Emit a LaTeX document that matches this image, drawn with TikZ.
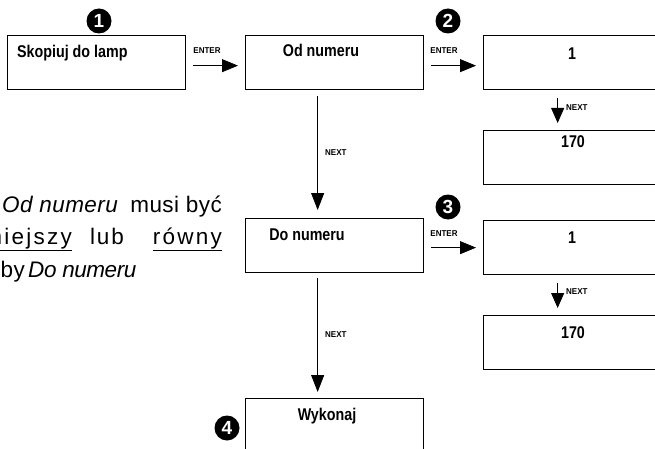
\documentclass[tikz,border=0pt]{standalone}
\usepackage{fontspec}
\setmainfont{Liberation Sans}
\usetikzlibrary{arrows.meta,calc}
\begin{document}
\begin{tikzpicture}[x=1pt,y=-1pt,
  box/.style={draw,line width=1.3pt,anchor=north west,minimum width=178pt,minimum height=54pt,inner sep=0pt},
  lbl/.style={font=\bfseries\fontsize{17}{19}\selectfont\addfontfeatures{FakeStretch=0.84},inner sep=0pt,anchor=base},
  tag/.style={font=\bfseries\fontsize{8.5}{9}\selectfont\addfontfeatures{FakeStretch=0.94},inner sep=0pt},
  badge/.style={circle,fill=black,text=white,minimum size=25pt,inner sep=0pt,font=\bfseries\fontsize{19}{19}\selectfont},
  bigarr/.style={-{Triangle[length=17pt,width=13pt]},line width=0.8pt},
  entarr/.style={-{Triangle[length=16pt,width=13pt]},line width=0.8pt},
  smlarr/.style={-{Triangle[length=15pt,width=13pt]},line width=0.8pt},
  para/.style={font=\fontsize{22.5}{26}\selectfont\addfontfeatures{LetterSpace=2},inner sep=0pt}
]
\useasboundingbox (0,0) rectangle (655,449);
\clip (0,0) rectangle (655,449);
% boxes
\node[box] (b1) at (7,35) {};
\node[box] (b2) at (245,35) {};
\node[box,minimum width=200pt] (b3) at (483,35) {};
\node[box,minimum width=200pt] (b4) at (483,130) {};
\node[box] (b5) at (245,218) {};
\node[box,minimum width=200pt] (b6) at (483,220) {};
\node[box,minimum width=200pt] (b7) at (483,315) {};
\node[box,minimum height=80pt] (b8) at (245,398) {};
% box texts
\node[lbl,anchor=base west] (t1) at (17,58) {Skopiuj do lamp};
\node[lbl] (t2) at (321,57) {Od numeru};
\node[lbl] (t3) at (572,60) {1};
\node[lbl] (t4) at (573,148) {170};
\node[lbl] (t5) at (307,240) {Do numeru};
\node[lbl] (t6) at (572,243) {1};
\node[lbl] (t7) at (573,338) {170};
\node[lbl] (t8) at (327,420) {Wykonaj};
% badges
\node[badge] (n1) at (99,21) {1};
\node[badge] (n2) at (448,21) {2};
\node[badge] (n3) at (448,207) {3};
\node[badge] (n4) at (227,428) {4};
% ENTER arrows
\draw[entarr] ($(b1.east)+(7,3)$) -- ($(b2.west)+(-7,3)$);
\node[tag] (e1) at (207,51) {ENTER};
\draw[entarr] ($(b2.east)+(7,3)$) -- ($(b3.west)+(-7,3)$);
\node[tag] (e2) at (444,51) {ENTER};
\draw[entarr] ($(b5.east)+(7,2)$) -- ($(b6.west)+(-7,0)$);
\node[tag] (e3) at (444,234) {ENTER};
% main NEXT arrows
\draw[bigarr] ($(b2.south)+(-17,6)$) -- ($(b5.north)+(-17,-8)$);
\node[tag,anchor=west] (x1) at (325,153) {NEXT};
\draw[bigarr] ($(b5.south)+(-17,5)$) -- ($(b8.north)+(-17,-6)$);
\node[tag,anchor=west] (x2) at (325,335) {NEXT};
% small NEXT arrows
\draw[smlarr] ($(b3.south)+(-26,8)$) -- ($(b4.north)+(-26,-7)$);
\node[tag,anchor=west] (x3) at (566,108) {NEXT};
\draw[smlarr] ($(b6.south)+(-26,8)$) -- ($(b7.north)+(-26,-7)$);
\node[tag,anchor=west] (x4) at (566,292) {NEXT};
% side text
\node[para,anchor=base west] (p1) at (2,212) {\itshape Od numeru};
\node[para,anchor=base east] (p2) at (222,212) {musi być};
\node[para,anchor=base east] (p3) at (72,244) {\underline{\addfontfeatures{LetterSpace=10}mniejszy}};
\node[para,anchor=base west] (p4) at (90,244) {\addfontfeatures{LetterSpace=8}lub};
\node[para,anchor=base east] (p5) at (222,244) {\underline{\addfontfeatures{LetterSpace=10}równy}};
\node[para,anchor=base east] (p6) at (25,277) {by};
\node[para,anchor=base west] (p7) at (28,277) {\itshape\addfontfeatures{LetterSpace=-2}Do numeru};
\end{tikzpicture}
\end{document}
